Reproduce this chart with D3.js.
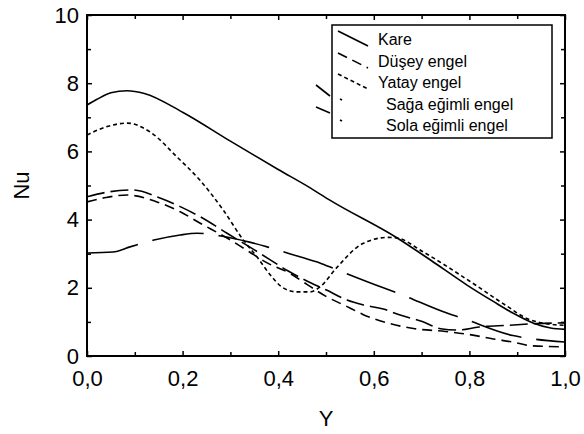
<!DOCTYPE html>
<html>
<head>
<meta charset="utf-8">
<script src="https://cdn.jsdelivr.net/npm/d3@7"></script>
<style>
  body { margin: 0; background: #fff; }
  text { font-family: "Liberation Sans", Arial, sans-serif; fill: #000; }
</style>
</head>
<body>
<div id="main"></div>
<script>
const ctx = { w: 584, h: 434 };
const margin = { top: 15, right: 19, bottom: 78, left: 87 };

// legend names (same order as the series below)
const seriesNames = ['Kare', 'Düşey engel', 'Yatay engel', 'Sağa eğimli engel', 'Sola eğimli engel'];

// Kare (solid)
const kareX = [0, 0.02, 0.05, 0.084, 0.12, 0.2, 0.3, 0.4, 0.467, 0.508, 0.649, 0.72, 0.795, 0.85, 0.891, 0.933, 0.97, 1.0];
const kareNu = [7.36, 7.52, 7.72, 7.78, 7.7, 7.15, 6.3, 5.47, 4.93, 4.57, 3.46, 2.8, 2.08, 1.6, 1.26, 0.97, 0.82, 0.78];

// Düşey engel (dashed)
const duseyX = [0, 0.04, 0.084, 0.15, 0.195, 0.236, 0.293, 0.34, 0.377, 0.425, 0.46, 0.5, 0.55, 0.577, 0.634, 0.686, 0.75, 0.8, 0.85, 0.89, 0.93, 1.0];
const duseyNu = [4.52, 4.65, 4.72, 4.5, 4.23, 3.9, 3.46, 3.05, 2.73, 2.42, 2.1, 1.75, 1.41, 1.22, 0.95, 0.8, 0.72, 0.63, 0.5, 0.41, 0.3, 0.27];

// Yatay engel (dotted)
const yatayX = [0, 0.04, 0.084, 0.132, 0.188, 0.236, 0.285, 0.326, 0.356, 0.385, 0.41, 0.44, 0.467, 0.487, 0.523, 0.577, 0.63, 0.65, 0.7, 0.8, 0.88, 0.92, 0.96, 1.0];
const yatayNu = [6.48, 6.72, 6.83, 6.57, 5.84, 5.16, 4.28, 3.42, 2.9, 2.35, 2.0, 1.88, 1.88, 2.02, 2.6, 3.3, 3.48, 3.46, 3.08, 2.2, 1.45, 1.1, 0.95, 0.9];

// Sağa eğimli engel (dashed, longer)
const sagaX = [0, 0.04, 0.096, 0.15, 0.195, 0.236, 0.293, 0.34, 0.38, 0.42, 0.46, 0.5, 0.544, 0.577, 0.62, 0.655, 0.7, 0.74, 0.775, 0.82, 0.88, 0.94, 1.0];
const sagaNu = [4.67, 4.8, 4.87, 4.65, 4.38, 4.09, 3.6, 3.2, 2.85, 2.5, 2.2, 1.94, 1.64, 1.5, 1.38, 1.2, 1.02, 0.8, 0.76, 0.85, 0.9, 0.95, 0.97];

// Sola eğimli engel (long dashes)
const solaX = [0, 0.054, 0.09, 0.14, 0.195, 0.23, 0.28, 0.34, 0.377, 0.447, 0.487, 0.519, 0.62, 0.651, 0.753, 0.785, 0.891, 0.933, 1.0];
const solaNu = [3.02, 3.05, 3.2, 3.4, 3.55, 3.6, 3.52, 3.34, 3.2, 2.9, 2.73, 2.55, 2.0, 1.84, 1.26, 1.11, 0.6, 0.5, 0.41];

const xMajor = [0, 0.2, 0.4, 0.6, 0.8, 1.0];
const xMinor = [0.1, 0.3, 0.5, 0.7, 0.9];
const yMajor = [0, 2, 4, 6, 8, 10];
const yMinor = [1, 3, 5, 7, 9];

const dashes = ['none', '10,6', '4,3', '18,6', '52,15'];

function zip(xs, vs) {
    return xs.map((d, i) => ({ x: d, v: vs[i] }));
}

function createViz() {
    const series = [zip(kareX, kareNu), zip(duseyX, duseyNu), zip(yatayX, yatayNu), zip(sagaX, sagaNu), zip(solaX, solaNu)];

    const svg = d3.select("#main").append("svg")
        .attr("width", ctx.w)
        .attr("height", ctx.h);

    const pw = ctx.w - margin.left - margin.right;
    const ph = ctx.h - margin.top - margin.bottom;
    const g = svg.append("g").attr("transform", `translate(${margin.left},${margin.top})`);

    const x = d3.scaleLinear().domain([0, 1]).range([0, pw]);
    const y = d3.scaleLinear().domain([0, 10]).range([ph, 0]);

    g.append("clipPath").attr("id", "clip")
        .append("rect").attr("width", pw).attr("height", ph);

    const comma = d => d3.format(".1f")(d).replace(".", ",");

    // ticks pointing inwards, on all four sides
    const axes = [
        { a: d3.axisBottom(x).tickValues(xMajor).tickFormat(comma).tickSize(-5).tickPadding(14), t: `translate(0,${ph})`, lab: true },
        { a: d3.axisBottom(x).tickValues(xMinor).tickFormat("").tickSize(-4), t: `translate(0,${ph})` },
        { a: d3.axisTop(x).tickValues(xMajor).tickFormat("").tickSize(-5), t: "translate(0,0)" },
        { a: d3.axisTop(x).tickValues(xMinor).tickFormat("").tickSize(-4), t: "translate(0,0)" },
        { a: d3.axisLeft(y).tickValues(yMajor).tickFormat(d3.format("d")).tickSize(-5).tickPadding(8), t: "translate(0,0)", lab: true },
        { a: d3.axisLeft(y).tickValues(yMinor).tickFormat("").tickSize(-4), t: "translate(0,0)" },
        { a: d3.axisRight(y).tickValues(yMajor).tickFormat("").tickSize(-5), t: `translate(${pw},0)` },
        { a: d3.axisRight(y).tickValues(yMinor).tickFormat("").tickSize(-4), t: `translate(${pw},0)` }
    ];
    axes.forEach(ax => {
        const ag = g.append("g").attr("transform", ax.t).call(ax.a);
        ag.select(".domain").remove();
        ag.selectAll("line").attr("stroke", "#000").attr("stroke-width", 1.5);
        ag.selectAll("text").style("font-size", "22px").style("font-family", '"Liberation Sans", Arial, sans-serif');
    });

    const line = d3.line()
        .x(d => x(d.x))
        .y(d => y(d.v))
        .curve(d3.curveMonotoneX);

    const lines = g.append("g").attr("clip-path", "url(#clip)");
    series.forEach((s, i) => {
        lines.append("path")
            .datum(s)
            .attr("d", line)
            .attr("fill", "none")
            .attr("stroke", "#000")
            .attr("stroke-width", 1.6)
            .attr("stroke-dasharray", dashes[i]);
    });

    // frame
    g.append("rect")
        .attr("width", pw).attr("height", ph)
        .attr("fill", "none").attr("stroke", "#000").attr("stroke-width", 2);

    // axis titles
    svg.append("text")
        .attr("x", margin.left + pw / 2)
        .attr("y", 426)
        .attr("text-anchor", "middle")
        .style("font-size", "22px")
        .text("Y");
    svg.append("text")
        .attr("transform", `translate(29,${margin.top + ph / 2}) rotate(-90)`)
        .attr("text-anchor", "middle")
        .style("font-size", "22px")
        .text("Nu");

    // legend
    const lg = svg.append("g");
    lg.append("rect")
        .attr("x", 332).attr("y", 25).attr("width", 220).attr("height", 113)
        .attr("fill", "#fff").attr("stroke", "#000").attr("stroke-width", 1.5);
    const rowY = [39, 61, 82, 104, 125];
    const textX = [378, 378, 378, 386, 386];
    seriesNames.forEach((name, i) => {
        if (i < 3) {
            lg.append("line")
                .attr("x1", 338).attr("y1", rowY[i] - 8)
                .attr("x2", 368).attr("y2", rowY[i] + 7)
                .attr("stroke", "#000").attr("stroke-width", 1.6)
                .attr("stroke-dasharray", dashes[i]);
        } else {
            // sample mostly clipped away, a stroke left outside the box
            lg.append("line")
                .attr("x1", 316).attr("y1", rowY[i] - 19 + (i - 3) * 1)
                .attr("x2", 330).attr("y2", rowY[i] - 8 - (i - 3) * 4)
                .attr("stroke", "#000").attr("stroke-width", 1.6);
            lg.append("line")
                .attr("x1", 340).attr("y1", rowY[i] - 5)
                .attr("x2", 342).attr("y2", rowY[i] - 4)
                .attr("stroke", "#000").attr("stroke-width", 1.8);
        }
        lg.append("text")
            .attr("x", textX[i])
            .attr("y", rowY[i] + 6)
            .style("font-size", "16px")
            .text(name);
    });
}

createViz();
</script>
</body>
</html>
